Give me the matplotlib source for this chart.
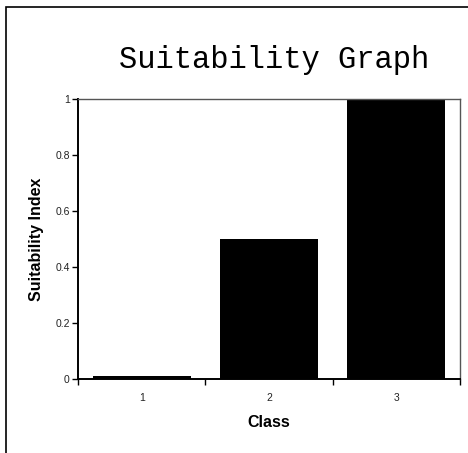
import matplotlib.pyplot as plt
from matplotlib.patches import Rectangle
from matplotlib.ticker import FixedLocator, NullFormatter

# data
classes = ['1', '2', '3']
suitability = [0.01, 0.5, 1.0]
y_ticks = [0, 0.2, 0.4, 0.6, 0.8, 1]
y_labels = ['0', '0.2', '0.4', '0.6', '0.8', '1']

fig = plt.figure(figsize=(4.68, 4.53), dpi=100)
ax = fig.add_axes([0.1667, 0.1634, 0.8162, 0.6181])

pos = list(range(len(classes)))
ax.bar(pos, suitability, width=0.77, color='black')

ax.set_xlim(-0.5, len(classes) - 0.5)
ax.set_ylim(0, 1)

# Excel-like ticks between categories, labels centred
ax.xaxis.set_major_locator(FixedLocator([p - 0.5 for p in pos] + [len(classes) - 0.5]))
ax.xaxis.set_major_formatter(NullFormatter())
ax.xaxis.set_minor_locator(FixedLocator(pos))
ax.set_xticklabels(classes, minor=True, fontsize=7.5, family='Liberation Sans', color='#222222')
ax.tick_params(axis='x', which='minor', length=0, pad=10)
ax.tick_params(axis='x', which='major', length=4, direction='out', width=1)

ax.set_yticks(y_ticks)
ax.set_yticklabels(y_labels, fontsize=7.5, family='Liberation Sans', color='#222222')
ax.tick_params(axis='y', length=4, direction='out', width=1, pad=2)

for s in ['left', 'bottom']:
    ax.spines[s].set_linewidth(1.4)
    ax.spines[s].set_color('black')
for s in ['top', 'right']:
    ax.spines[s].set_linewidth(1.0)
    ax.spines[s].set_color('#555555')

ax.set_xlabel('Class', fontsize=11.5, fontweight='bold', family='Liberation Sans', labelpad=9)
ax.set_ylabel('Suitability Index', fontsize=11.5, fontweight='bold', family='Liberation Sans', labelpad=8)

fig.text(0.586, 0.868, 'Suitability Graph', ha='center', va='center',
         fontsize=22, family='Liberation Mono')

# outer chart border (left and top visible)
fig.patches.append(Rectangle((6 / 468, -0.1), 1.2, 1 - 7 / 453 + 0.1,
                             transform=fig.transFigure, fill=False,
                             edgecolor='black', linewidth=1.2))

fig.savefig('out.png', dpi=100)
